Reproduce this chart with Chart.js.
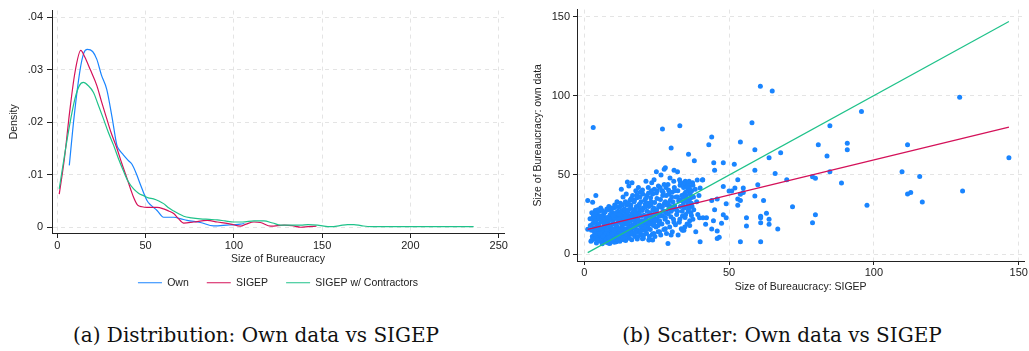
<!DOCTYPE html>
<html>
<head>
<meta charset="utf-8">
<script src="https://cdn.jsdelivr.net/npm/chart.js@4.4.1/dist/chart.umd.min.js"></script>
<style>
  body { margin: 0; background: #fff; }
  #wrap { position: relative; width: 1029px; height: 351px; background: #fff; }
  canvas { position: absolute; top: 0; }
  #distChart { left: 0; }
  #scatterChart { left: 515px; }
  .caption {
    position: absolute; top: 323px;
    font-family: 'DejaVu Serif', serif; font-size: 20px; line-height: 24px;
    color: #111; white-space: nowrap; transform: translateX(-50%);
  }
</style>
</head>
<body>
<div id="wrap">
  <canvas id="distChart" width="515" height="300"></canvas>
  <canvas id="scatterChart" width="514" height="300"></canvas>
  <div class="caption" style="left:256px">(a) Distribution: Own data vs SIGEP</div>
  <div class="caption" style="left:782px">(b) Scatter: Own data vs SIGEP</div>
</div>
<script>
// ============ DATA ============

// (a) kernel densities of bureaucracy size
const ownX = [6.8, 9.5, 12.9, 15, 17, 20, 22.4, 25, 28, 31, 33.7, 35, 37.4, 40, 42.3, 45, 47, 50.8, 53, 56.5, 60.2, 66, 70, 73.5, 81, 88.6, 96, 103.7, 106];
const ownY = [0.0118, 0.021, 0.030, 0.0332, 0.0339, 0.0335, 0.032, 0.029, 0.0263, 0.021, 0.0157, 0.0148, 0.0138, 0.0128, 0.012, 0.010, 0.0082, 0.0051, 0.0042, 0.0032, 0.0019, 0.0019, 0.0016, 0.0013, 0.0009, 0.00025, 0.0004, 0.0006, 0.0007];

const sigepX = [1.1, 4, 7, 10, 13.3, 15.5, 18.6, 22.4, 25, 28, 30.5, 33.7, 36.5, 39.4, 41.5, 43.2, 45.5, 48, 50.8, 56.5, 60.2, 63, 65.9, 68.5, 71.6, 77.3, 84.9, 90.6, 98.2, 103.8, 107, 111.4, 115, 120.9, 128.5, 133, 137.9, 142, 146.8];
const sigepY = [0.0063, 0.013, 0.022, 0.0295, 0.0337, 0.0325, 0.0301, 0.027, 0.024, 0.0207, 0.018, 0.0151, 0.0122, 0.0094, 0.0073, 0.0057, 0.0042, 0.0039, 0.0038, 0.0038, 0.0035, 0.0031, 0.0026, 0.0017, 0.0008, 0.001, 0.0013, 0.001, 0.0006, 0.0002, 0.0006, 0.001, 0.0009, 0.0002, 0.0004, 0.0003, 0, 0.0001, 0.0002];

const contrX = [1.1, 4, 7, 10, 12.5, 14.8, 17.5, 20.5, 23, 26.1, 29, 31.8, 34.5, 37.5, 40, 43.2, 46, 48.9, 51.5, 54.5, 57.5, 60.2, 63, 65.9, 68.5, 71.6, 76, 81, 86, 90.6, 95, 100, 105, 111.4, 117, 122, 126.5, 132, 137.9, 142, 147.4, 151, 155, 160, 164.4, 168, 172, 177.7, 188, 200, 212, 223, 230, 235.8];
const contrY = [0.0073, 0.0135, 0.0195, 0.0245, 0.027, 0.0276, 0.027, 0.0257, 0.0235, 0.0207, 0.018, 0.0157, 0.0132, 0.0107, 0.0088, 0.0073, 0.0065, 0.006, 0.0056, 0.0054, 0.005, 0.0045, 0.0037, 0.0031, 0.0026, 0.0021, 0.0018, 0.0016, 0.0015, 0.0014, 0.0012, 0.001, 0.001, 0.0012, 0.0012, 0.0008, 0.0004, 0.0004, 0.0004, 0.0005, 0.0004, 0.0002, 0.0001, 0.0003, 0.0005, 0.0005, 0.0003, 0.0001, 0.0001, 0.0001, 0.0001, 0.0001, 0.0001, 0.0001];

const densityLabels = ['Own', 'SIGEP', 'SIGEP w/ Contractors'];
const sizeTicks = [0, 50, 100, 150, 200, 250];
const densityTicks = [0, 0.01, 0.02, 0.03, 0.04];
const densityTickLabels = ['0', '.01', '.02', '.03', '.04'];

// (b) municipalities: [size in SIGEP, size in own data]
const scatterPoints = [
  // outliers and sparse part
  [3.1,80],[27,79],[33,81],[30,67],[44,74],[43,69],[36,63],[38,59],[44.7,57.7],[48,57.7],[51.8,56.7],[45,53],
  [24.9,52],[27.6,53.5],[28,54.5],[31,53],[32.2,52],[60.8,106],[64.9,103],[95.7,90],[57.9,83],[84.8,81],
  [53.9,70.8],[80.8,69],[90.8,70],[90.8,65.8],[58.9,65.8],[67.8,64],[63.8,60.8],[83.8,61.9],[58.9,52.9],
  [65.9,50.8],[84.8,51.9],[40.9,46.9],[53,46.9],[69.9,46.9],[78.8,48.8],[79.8,47.9],[88.8,44.8],[59.9,43.8],
  [40,41.7],[48,42.7],[50,39.8],[50.9,39.8],[52,41.7],[54.9,41.7],[54.9,38.8],[53.9,37.7],[53,34.8],[53.9,33.8],
  [58.9,36.7],[44,33.8],[45.9,34.8],[61.9,33.8],[49,31.7],[53,30.8],[71.9,29.8],[45,27.9],[48,24.8],[49,22.9],
  [39.8,22.9],[41,22.9],[42.2,22.9],[56,22.9],[60.9,23.8],[60.9,22.9],[62.9,25.8],[63.8,21.9],[63.8,18.8],
  [60.9,19.8],[56,17.7],[66.8,15.8],[79.8,24.8],[78.8,19.8],[41.9,18.8],[44,15.8],[45.9,9.8],[40,7.7],[53.9,7.7],
  [60.9,7.7],[97.6,30.8],[129.6,99],[111.6,69],[146.6,60.8],[109.7,51.9],[115.8,48.9],[111.6,37.9],[112.7,38.8],
  [130.6,39.8],[116.7,32.9],[28.9,6.7],[1.2,33.8],[4,36.9],[2.9,32.7],[44.6,21],[45.9,14.6],[47.4,19.4],[46.6,10.6],
  [35.6,45],[39,46.7],[40.8,46.7],[34.7,17],[33.9,15],[36.4,21],[37,24.3],[22.3,8.8],[23.6,8.8],[20.1,9.6],
  [8.8,6.7],[11.1,7.7],[2.6,8.7],[1.2,15.6],[2,22.3],[3.1,23.7],[4.8,24.4],
  // main cloud
  [2.3,8],[3.5,9.5],[2.8,11],[3.9,13],[2.5,15],[3.3,16.5],[2.1,18],[3.7,20],[2.9,22],[3.4,23.5],[2.6,26],[3.8,27.5],
  [4.2,7],[5.6,8],[4.8,9.5],[5.3,10.5],[4.4,12],[5.8,13.5],[4.9,14.5],[5.5,16],[4.3,17.5],[5.1,19],[5.9,20.5],
  [4.6,22],[5.4,24],[4.7,28],[5.7,29],
  [6.2,6.5],[7.5,7.5],[6.8,8.5],[7.9,9.5],[6.4,10.5],[7.2,11.5],[6.6,12.5],[7.7,14],[6.1,15],[7.3,16.5],[6.9,18],
  [7.6,19.5],[6.3,21],[7.1,23],[6.7,25.5],[7.8,28.5],
  [8.3,7],[9.4,8],[8.7,9],[9.8,10],[8.1,11],[9.2,12],[8.6,13],[9.6,14],[8.4,15],[9.1,16.5],[8.9,17.5],[9.7,19],
  [8.2,20.5],[9.3,22],[8.8,24],[9.5,26.5],[8.5,30],
  [10.4,7.5],[11.5,8.5],[10.8,9.5],[11.9,10.5],[10.2,11.5],[11.2,12.5],[10.7,13.5],[11.7,14.5],[10.3,15.5],
  [11.4,17],[10.9,18.5],[11.8,20],[10.1,21.5],[11.1,23],[10.6,25],[11.6,27],[10.5,31],[11.3,33],
  [12.3,8],[13.6,9],[12.8,10],[13.9,11],[12.1,12],[13.2,13],[12.6,14],[13.7,15],[12.4,16],[13.1,17.5],[12.9,19],
  [13.5,20.5],[12.2,22],[13.3,24],[12.7,26],[13.8,28.5],[12.5,32],[13.4,36],[12.8,41],
  [14.3,8.5],[15.5,10],[14.8,11.5],[15.9,12.5],[14.1,13.5],[15.2,14.5],[14.6,16],[15.7,17.5],[14.4,19],[15.1,20.5],
  [14.9,22],[15.6,24],[14.2,26],[15.3,28],[14.7,31],[15.8,34],[14.5,38],[15.4,43],[14.9,45.5],
  [16.4,9],[17.5,11],[16.8,12.5],[17.9,14],[16.2,15.5],[17.2,17],[16.6,18.5],[17.7,20],[16.3,22],[17.1,24],
  [16.9,26],[17.6,28.5],[16.1,31],[17.3,34],[16.7,37],[17.8,40],[16.5,45],
  [18.3,9.5],[19.5,12],[18.8,14],[19.9,16],[18.1,18],[19.2,20],[18.6,22],[19.7,24],[18.4,26],[19.1,28],[18.9,30.5],
  [19.6,33],[18.2,35.5],[19.3,39],[18.7,42],
  [20.4,10],[21.5,13],[20.8,15],[21.9,17],[20.2,19.5],[21.2,22],[20.6,24.5],[21.7,27],[20.3,29],[21.1,31.5],
  [20.9,34],[21.6,37],[20.1,40.5],[21.3,46],
  [22.4,9],[23.5,12.5],[22.8,15.5],[23.9,18],[22.2,21],[23.2,23.5],[22.6,26],[23.7,28],[22.3,30],[23.1,33],
  [22.9,35.5],[23.6,38],[22.1,42],[23.3,45],
  [24.4,11],[25.5,14],[24.8,17],[25.9,20],[24.2,23],[25.2,25.5],[24.6,27.5],[25.7,30],[24.3,32.5],[25.1,35],
  [24.9,38.5],[25.6,43],[24.1,47],
  [26.4,12],[27.5,15.5],[26.8,19],[27.9,22],[26.2,25],[27.2,27],[26.6,29.5],[27.7,32],[26.3,34.5],[27.1,37],
  [26.9,40],[27.6,44],[26.5,50],
  [28.4,13],[29.5,17],[28.8,20],[29.9,23.5],[28.2,26],[29.2,28.5],[28.6,31],[29.7,34],[28.3,37],[29.1,40.5],
  [28.9,44],[29.6,48],
  [30.4,14],[31.5,18.5],[30.8,22],[31.9,25],[30.2,28],[31.2,30.5],[30.6,33],[31.7,36],[30.3,39],[31.1,42],[30.9,46],
  [32.4,12],[33.5,16],[32.8,20],[33.9,24],[32.2,27],[33.2,30],[32.6,33.5],[33.7,37],[32.3,40],[33.1,43.5],[32.9,47],
  [34.4,15],[35.5,19],[34.8,23],[35.9,27],[34.2,31],[35.2,35],[34.6,38],[35.7,40],[34.3,42],[35.1,44],[34.9,46],
  [36.4,18],[37.5,22],[36.8,26],[37.2,30],[36.2,34],[37.7,36],[36.6,38],[37.1,40],[36.3,42.5],[37.4,45],
  [38.5,14],[39.2,25],[38.8,33],[39.6,37],[38.3,41],
  // densest corner
  [3.1,10.2],[4.1,11.3],[5,8.6],[6,9.1],[7,10],[8,8.2],[9,11.4],[10,9],[11,10.8],[12,9.6],[13,11.9],[14,10.3],
  [15,13.1],[16,14.3],[3.6,12.4],[4.6,13],[5.6,11.7],[6.5,14],[7.4,13.1],[8.4,12.2],[9.4,15.5],[10.4,14],
  [11.4,16],[12.4,14.6],[13.4,16.2],[14.4,15.2],[15.4,18],[16.4,17.5],[4,15.6],[5,17],[6,16.2],[7,17.3],[8,18.6],
  [9,17.8],[10,19.5],[11,18],[12,20.7],[13,19.8],[14,21.3],[15,19.6],[16,21],[17,21.8],[6.5,20],[8.5,21.5],
  [10.5,22.8],[12.5,23.5],[14.5,24.8],[16.5,25.6],[18,23.3],[19,25.4],[20,21],[21,19],[22,17],[23,20],[24,19],
  [25,22],[26,21],[27,24],[28,23],[29,25.5],[30,27],[17.5,16],[18.5,15],[19.5,17.5],[20.5,12],[21.5,15.5],
  [22.5,11],[24,13],[26,14],[28,16],[30,12],[31,20],[33,22],[35,25],[36,28.5],[37,32],[35.5,33],[34,36],
  [36.5,40.5],[35.5,42.5],[37.5,43.5],[36,44.5],[35,39],[34.5,29],
  [3.5,14.2],[4.5,9],[5.5,12.8],[6.5,11],[7.5,8.8],[8.5,10.3],[9.5,12.7],[10.5,10],[11.5,11.6],[12.5,13],
  [13.5,10.2],[14.5,12.8],[15.5,15.8],[16.5,13.2],[17.5,13.5],[18.5,11],[19.5,14.5],[20.5,17],[21.5,21],
  [22.5,19],[23.5,22],[24.5,21],[25.5,18],[3,19.3],[4,21],[5,22.8],[6,23.6],[7,21.8],[8,23],[9,25],[10,24.3],
  [11,26],[12,25],[13,27.3],[14,28],[15,26.5],[16,29],[17,27],[18,30],[19,31.5],[20,27.5],[21,29.5],[22,32],
  [23,31],[24,29],[25,28],[26,31],[27,30],[28,33],[29,32],[3.2,25],[4.2,26.5],[5.2,27],[6.2,27.5],[7.2,26.5],
  [8.2,28],[9.2,29],[10.2,29],[11.2,30],[12.2,29.5],[13.2,31],[14.2,33],[15.2,32],[16.2,35],[17.2,33],[18.2,37.5],
  [19.2,36],[20.2,38],[21.2,35],[22.2,38.5],[23.2,40],[24.2,41],[25.2,40],[26.2,42],[27.2,39],[28.2,42],[29.2,38],
  [30.2,36],[31.2,40],[32.2,36],[33.2,34],[34.2,33],[7.8,15.5],[9.8,16],[11.8,21.8],[13.8,22.5],[15.8,23],
  [17.8,25],[19.8,19],[21.8,24],[23.8,25],[25.8,24],[27.8,27],[29.8,30],[31.8,28],[33.8,27],[35.8,30.5],
  [37.8,28],[36.8,35.5],[35.2,37],[36.2,46],[34.2,44.5],[33.2,45.5]
];

// fitted lines over the range of SIGEP sizes
const fitX = [1.2, 146.6];
const linearFitY = [15.6, 80.2];
const diagonalY = [0.9, 146.9];
const scatterTicks = [0, 50, 100, 150];

// ============ STYLE ============

const BLUE = '#1a85ff';
const RED = '#d41159';
const GREEN = '#1fc28a';
const INK = '#222';
const GRID = '#e4e4e4';

Chart.defaults.font.family = "'Liberation Sans', Arial, sans-serif";
Chart.defaults.color = INK;

function toPoints(xs, ys) {
  return xs.map((x, i) => ({ x: x, y: ys[i] }));
}

function axis(opts) {
  return {
    type: 'linear',
    min: opts.min,
    max: opts.max,
    afterBuildTicks: (scale) => { scale.ticks = opts.ticks.map(v => ({ value: v })); },
    afterFit: (scale) => {
      if (opts.width !== undefined) scale.width = opts.width;
      if (opts.height !== undefined) scale.height = opts.height;
    },
    grid: {
      color: GRID,
      lineWidth: 1,
      drawTicks: true,
      tickLength: opts.tickLength,
      tickColor: INK,
      tickWidth: 1,
      tickBorderDash: []
    },
    border: { display: true, color: INK, width: 1, dash: [4, 4] },
    ticks: {
      padding: opts.tickPadding,
      font: { size: 11 },
      color: INK,
      maxRotation: 0,
      autoSkip: false,
      callback: opts.labels ? ((v, i) => opts.labels[i]) : ((v) => String(v))
    },
    title: {
      display: true,
      text: opts.title,
      font: { size: 10.5 },
      color: INK,
      padding: opts.titlePadding
    }
  };
}

// ============ (a) DENSITY ============

const densitySeries = [
  { x: ownX, y: ownY, color: BLUE, order: 3 },
  { x: sigepX, y: sigepY, color: RED, order: 2 },
  { x: contrX, y: contrY, color: GREEN, order: 1 }
];

new Chart(document.getElementById('distChart'), {
  type: 'line',
  data: {
    datasets: densitySeries.map((s, i) => ({
      label: densityLabels[i],
      data: toPoints(s.x, s.y),
      borderColor: s.color,
      backgroundColor: s.color,
      borderWidth: 1.2,
      pointRadius: 0,
      fill: false,
      cubicInterpolationMode: 'monotone',
      order: s.order
    }))
  },
  options: {
    responsive: false,
    animation: false,
    layout: { padding: { left: 0, right: 11, top: 7, bottom: 2 } },
    plugins: {
      tooltip: { enabled: false },
      legend: {
        position: 'bottom',
        fullSize: false,
        labels: {
          usePointStyle: true,
          pointStyle: 'line',
          pointStyleWidth: 24,
          padding: 18,
          color: INK,
          font: { size: 10.5 },
          sort: (a, b) => a.datasetIndex - b.datasetIndex
        }
      }
    },
    scales: {
      x: axis({ min: -3, max: 253, ticks: sizeTicks, height: 26.5, tickLength: 5, tickPadding: 1,
                title: 'Size of Bureaucracy', titlePadding: { top: 0, bottom: -6 } }),
      y: axis({ min: -0.0011, max: 0.0413, ticks: densityTicks, labels: densityTickLabels, width: 52,
                tickLength: 5, tickPadding: 4, title: 'Density', titlePadding: { top: 8, bottom: 0 } })
    }
  }
});

// ============ (b) SCATTER ============

new Chart(document.getElementById('scatterChart'), {
  type: 'scatter',
  data: {
    datasets: [
      {
        label: 'Municipalities',
        data: scatterPoints.map(p => ({ x: p[0], y: p[1] })),
        backgroundColor: BLUE,
        borderWidth: 0,
        pointRadius: 2.5,
        order: 3
      },
      {
        label: 'Linear fit',
        data: toPoints(fitX, linearFitY),
        showLine: true,
        borderColor: RED,
        borderWidth: 1.2,
        pointRadius: 0,
        order: 2
      },
      {
        label: '45 degree line',
        data: toPoints(fitX, diagonalY),
        showLine: true,
        borderColor: GREEN,
        borderWidth: 1.2,
        pointRadius: 0,
        order: 1
      }
    ]
  },
  options: {
    responsive: false,
    animation: false,
    layout: { padding: { left: 0, right: 1, top: 7, bottom: 6.7 } },
    plugins: { legend: { display: false }, tooltip: { enabled: false } },
    scales: {
      x: axis({ min: -2.5, max: 151.9, ticks: scatterTicks, height: 32.3, tickLength: 4, tickPadding: 1,
                title: 'Size of Bureaucracy: SIGEP', titlePadding: { top: 0, bottom: 0 } }),
      y: axis({ min: -4.4, max: 154.4, ticks: scatterTicks, width: 62, tickLength: 4, tickPadding: 3,
                title: 'Size of Bureaucracy: own data', titlePadding: { top: 16.7, bottom: 0 } })
    }
  }
});
</script>
</body>
</html>
